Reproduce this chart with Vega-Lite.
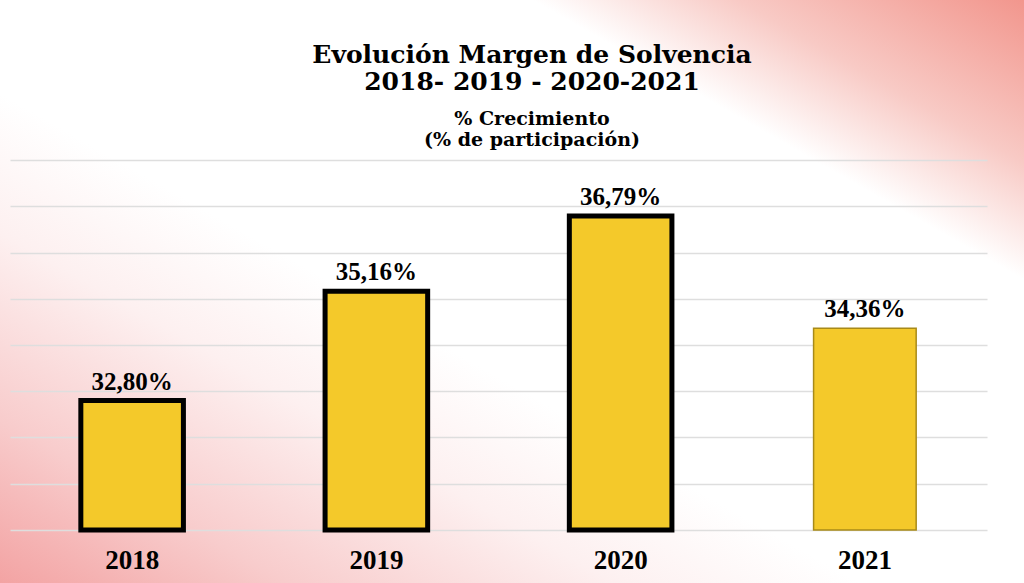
{
  "$schema": "https://vega.github.io/schema/vega-lite/v6.json",
  "width": 1024,
  "height": 583,
  "padding": 0,
  "autosize": {"type": "none"},
  "background": "#ffffff",
  "config": {
    "locale": {"number": {"decimal": ",", "thousands": ".", "grouping": [3], "currency": ["", " €"]}},
    "view": {
      "stroke": null,
      "fill": {
        "gradient": "linear",
        "x1": 0, "y1": 1, "x2": 1, "y2": 0,
        "stops": [
          {"offset": 0, "color": "#f3a3a3"},
          {"offset": 0.14, "color": "#f8cccc"},
          {"offset": 0.3, "color": "#fdf0f0"},
          {"offset": 0.42, "color": "#ffffff"},
          {"offset": 0.76, "color": "#ffffff"},
          {"offset": 0.86, "color": "#f8cac5"},
          {"offset": 1, "color": "#f2968d"}
        ]
      }
    }
  },
  "title": {
    "text": ["Evolución Margen de Solvencia", "2018- 2019 - 2020-2021"],
    "subtitle": ["% Crecimiento", "(% de participación)"],
    "anchor": "middle",
    "frame": "group",
    "orient": "top",
    "offset": -150,
    "dx": 20,
    "font": "DejaVu Serif",
    "fontSize": 25,
    "fontWeight": "bold",
    "lineHeight": 27,
    "color": "#000000",
    "subtitleFont": "DejaVu Serif",
    "subtitleFontSize": 19,
    "subtitleFontWeight": "bold",
    "subtitleLineHeight": 21,
    "subtitleColor": "#000000",
    "subtitlePadding": 15
  },
  "data": {
    "values": [
      {"year": "2018", "value": 0.3280},
      {"year": "2019", "value": 0.3516},
      {"year": "2020", "value": 0.3679},
      {"year": "2021", "value": 0.3436}
    ]
  },
  "encoding": {
    "x": {
      "field": "year",
      "type": "nominal",
      "sort": null,
      "scale": {"range": [10, 987], "paddingInner": 0.58, "paddingOuter": 0.29},
      "axis": {
        "title": null,
        "orient": "bottom",
        "offset": -53,
        "domain": false,
        "ticks": false,
        "labelAngle": 0,
        "labelPadding": 17,
        "labelFont": "Liberation Serif",
        "labelFontSize": 27,
        "labelFontWeight": "bold",
        "labelColor": "#000000",
        "grid": false
      }
    },
    "y": {
      "field": "value",
      "type": "quantitative",
      "scale": {"domain": [0.30, 0.38], "range": [530, 160], "nice": false, "zero": false},
      "axis": {
        "title": null,
        "labels": false,
        "ticks": false,
        "domain": false,
        "grid": true,
        "gridColor": "#dedede",
        "gridWidth": 1.5,
        "values": [0.30, 0.31, 0.32, 0.33, 0.34, 0.35, 0.36, 0.37, 0.38]
      }
    }
  },
  "layer": [
    {
      "mark": {"type": "bar", "fill": "#f4c92a"},
      "encoding": {
        "y2": {"datum": 0.30},
        "stroke": {
          "condition": {"test": "datum.year == '2021'", "value": "#a88a18"},
          "value": "#000000"
        },
        "strokeWidth": {
          "condition": {"test": "datum.year == '2021'", "value": 1.5},
          "value": 5
        }
      }
    },
    {
      "mark": {
        "type": "text",
        "baseline": "alphabetic",
        "dy": -11,
        "font": "Liberation Serif",
        "fontSize": 25,
        "fontWeight": "bold",
        "color": "#000000"
      },
      "encoding": {
        "text": {"field": "value", "type": "quantitative", "format": ".2%"}
      }
    }
  ]
}
